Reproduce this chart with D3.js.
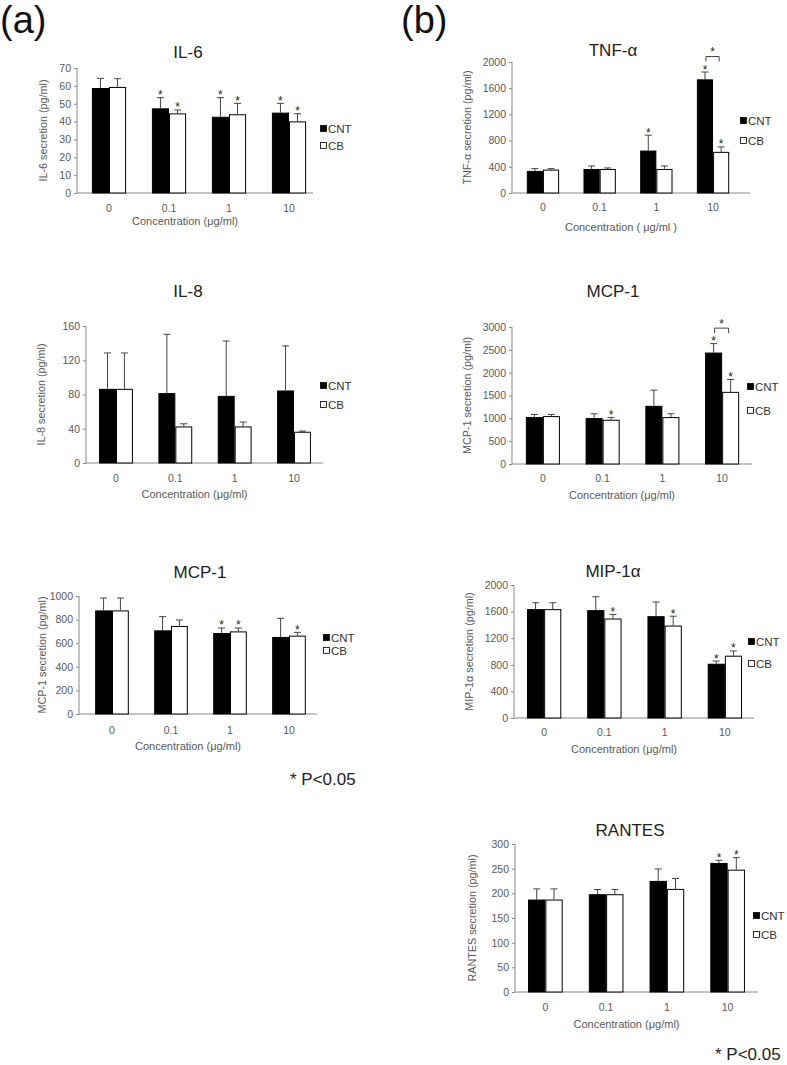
<!DOCTYPE html>
<html><head><meta charset="utf-8">
<script src="https://cdn.jsdelivr.net/npm/d3@7"></script>
<style>
html,body{margin:0;padding:0;background:#fff;}
svg{display:block;font-family:"Liberation Sans",Arial,sans-serif;}
</style></head>
<body>
<svg id="chart" width="787" height="1065"></svg>
<script>
// ---------- data ----------
const categories = ["0", "0.1", "1", "10"];
const seriesNames = ["CNT", "CB"];

const il6CNT = [58.8, 47.4, 42.7, 45.0];
const il6CNTsd = [5.4, 6.0, 10.7, 5.2];
const il6CB = [59.4, 44.6, 44.1, 40.1];
const il6CBsd = [4.6, 1.9, 6.1, 4.3];
const il6CNTstar = [0, 1, 1, 1];
const il6CBstar = [0, 1, 1, 1];
const il6Ticks = [0, 10, 20, 30, 40, 50, 60, 70];

const il8CNT = [86.6, 81.6, 78.4, 84.7];
const il8CNTsd = [41.9, 68.7, 64.1, 52.0];
const il8CB = [86.6, 42.7, 42.7, 36.5];
const il8CBsd = [41.9, 3.1, 5.1, 0.8];
const il8CNTstar = [0, 0, 0, 0];
const il8CBstar = [0, 0, 0, 0];
const il8Ticks = [0, 40, 80, 120, 160];

const mcpaCNT = [878, 709, 686, 653];
const mcpaCNTsd = [105, 116, 43, 158];
const mcpaCB = [878, 746, 700, 664];
const mcpaCBsd = [105, 51, 29, 28];
const mcpaCNTstar = [0, 0, 1, 0];
const mcpaCBstar = [0, 0, 1, 1];
const mcpaTicks = [0, 200, 400, 600, 800, 1000];

const tnfCNT = [337, 367, 648, 1735];
const tnfCNTsd = [35, 46, 235, 112];
const tnfCB = [357, 367, 367, 628];
const tnfCBsd = [15, 16, 46, 76];
const tnfCNTstar = [0, 0, 1, 1];
const tnfCBstar = [0, 0, 0, 1];
const tnfTicks = [0, 400, 800, 1200, 1600, 2000];

const mcpbCNT = [1027, 1005, 1274, 2440];
const mcpbCNTsd = [58, 95, 343, 196];
const mcpbCB = [1049, 969, 1027, 1580];
const mcpbCBsd = [36, 51, 73, 270];
const mcpbCNTstar = [0, 0, 0, 1];
const mcpbCBstar = [0, 1, 0, 1];
const mcpbTicks = [0, 500, 1000, 1500, 2000, 2500, 3000];

const mipCNT = [1637, 1622, 1531, 816];
const mipCNTsd = [96, 202, 212, 40];
const mipCB = [1637, 1496, 1390, 937];
const mipCBsd = [96, 61, 141, 71];
const mipCNTstar = [0, 0, 0, 1];
const mipCBstar = [0, 1, 1, 1];
const mipTicks = [0, 400, 800, 1200, 1600, 2000];

const ranCNT = [187.4, 198.2, 225.2, 261.6];
const ranCNTsd = [21.6, 9.5, 24.3, 5.4];
const ranCB = [187.4, 198.2, 209, 248];
const ranCBsd = [21.6, 9.5, 21, 24.4];
const ranCNTstar = [0, 0, 0, 1];
const ranCBstar = [0, 0, 0, 1];
const ranTicks = [0, 50, 100, 150, 200, 250, 300];

// ---------- layout ----------
const panels = [
  {title:"IL-6", ylab:"IL-6  secretion (pg/ml)", xlab:"Concentration  (μg/ml)",
   cnt:il6CNT, cntSd:il6CNTsd, cb:il6CB, cbSd:il6CBsd, cntStar:il6CNTstar, cbStar:il6CBstar, ticks:il6Ticks,
   ax0:77, ax1:313, band:[79,319], yTop:68, yBot:193, titleX:188, titleY:58, ylabX:47,
   legX:320, legY:[133,150], xtickY:212, xlabY:225, bracket:null},
  {title:"IL-8", ylab:"IL-8 secretion (pg/ml)", xlab:"Concentration  (μg/ml)",
   cnt:il8CNT, cntSd:il8CNTsd, cb:il8CB, cbSd:il8CBsd, cntStar:il8CNTstar, cbStar:il8CBstar, ticks:il8Ticks,
   ax0:86, ax1:323, band:[86.3,323.7], yTop:326, yBot:463, titleX:188, titleY:297, ylabX:45,
   legX:320, legY:[390,409], xtickY:482, xlabY:498, bracket:null},
  {title:"MCP-1", ylab:"MCP-1 secretion (pg/ml)", xlab:"Concentration  (μg/ml)",
   cnt:mcpaCNT, cntSd:mcpaCNTsd, cb:mcpaCB, cbSd:mcpaCBsd, cntStar:mcpaCNTstar, cbStar:mcpaCBstar, ticks:mcpaTicks,
   ax0:79, ax1:317, band:[82.5,318.5], yTop:596, yBot:714, titleX:200, titleY:578, ylabX:46,
   legX:323, legY:[642,655], xtickY:734, xlabY:750, bracket:null},
  {title:"TNF-α", ylab:"TNF-α secretion (pg/ml)", xlab:"Concentration  ( μg/ml )",
   cnt:tnfCNT, cntSd:tnfCNTsd, cb:tnfCB, cbSd:tnfCBsd, cntStar:tnfCNTstar, cbStar:tnfCBstar, ticks:tnfTicks,
   ax0:512, ax1:750, band:[514.6,741.4], yTop:62, yBot:193, titleX:613, titleY:56, ylabX:471,
   legX:740, legY:[125,145], xtickY:211, xlabY:231, bracket:"10"},
  {title:"MCP-1", ylab:"MCP-1 secretion (pg/ml)", xlab:"Concentration  (μg/ml)",
   cnt:mcpbCNT, cntSd:mcpbCNTsd, cb:mcpbCB, cbSd:mcpbCBsd, cntStar:mcpbCNTstar, cbStar:mcpbCBstar, ticks:mcpbTicks,
   ax0:512, ax1:752, band:[513,752], yTop:327, yBot:464, titleX:613, titleY:297, ylabX:471,
   legX:747, legY:[391,415], xtickY:482, xlabY:499, bracket:"10"},
  {title:"MIP-1α", ylab:"MIP-1α secretion (pg/ml)", xlab:"Concentration  (μg/ml)",
   cnt:mipCNT, cntSd:mipCNTsd, cb:mipCB, cbSd:mipCBsd, cntStar:mipCNTstar, cbStar:mipCBstar, ticks:mipTicks,
   ax0:514, ax1:754, band:[514,755], yTop:585, yBot:718, titleX:613, titleY:577, ylabX:473,
   legX:748, legY:[646,668], xtickY:736, xlabY:753, bracket:null},
  {title:"RANTES", ylab:"RANTES secretion (pg/ml)", xlab:"Concentration  (μg/ml)",
   cnt:ranCNT, cntSd:ranCNTsd, cb:ranCB, cbSd:ranCBsd, cntStar:ranCNTstar, cbStar:ranCBstar, ticks:ranTicks,
   ax0:515, ax1:758, band:[515,758], yTop:844, yBot:992, titleX:630, titleY:836, ylabX:476,
   legX:753, legY:[920,939], xtickY:1011, xlabY:1028, bracket:null}
];

const svg = d3.select("#chart");
const gray = "#595959";

svg.append("text").attr("x", 0).attr("y", 33).attr("font-size", 38).attr("fill", "#111").text("(a)");
svg.append("text").attr("x", 401).attr("y", 33).attr("font-size", 38).attr("fill", "#111").text("(b)");
svg.append("text").attr("x", 290).attr("y", 785).attr("font-size", 17).attr("fill", "#222").text("* P<0.05");
svg.append("text").attr("x", 715).attr("y", 1060).attr("font-size", 17).attr("fill", "#222").text("* P<0.05");

panels.forEach(p => {
  const g = svg.append("g");
  const ymax = p.ticks[p.ticks.length - 1];
  const y = d3.scaleLinear().domain([0, ymax]).range([p.yBot, p.yTop]);
  const x = d3.scaleBand().domain(categories).range(p.band);
  const bw = x.bandwidth() * 0.285;

  // title
  g.append("text").attr("x", p.titleX).attr("y", p.titleY).attr("text-anchor", "middle")
    .attr("font-size", 17).attr("fill", "#222").text(p.title);

  // y axis
  const ya = d3.axisLeft(y).tickValues(p.ticks).tickSize(3).tickPadding(3).tickFormat(d3.format("d"));
  const yg = g.append("g").attr("transform", `translate(${p.ax0},0)`).call(ya);
  yg.select(".domain").attr("stroke", "#888").attr("d", `M0,${p.yTop}V${p.yBot}`);
  yg.selectAll(".tick line").attr("stroke", "#888");
  yg.selectAll(".tick text").attr("fill", gray).attr("font-size", 10.5)
    .attr("font-family", "'Liberation Sans',Arial,sans-serif");

  // x axis line
  g.append("line").attr("x1", p.ax0).attr("x2", p.ax1).attr("y1", p.yBot).attr("y2", p.yBot)
    .attr("stroke", "#888");

  // x tick labels
  g.selectAll(".xt").data(categories).join("text")
    .attr("x", d => x(d) + x.bandwidth() / 2).attr("y", p.xtickY).attr("text-anchor", "middle")
    .attr("font-size", 10.5).attr("fill", gray).text(d => d);

  // axis titles
  g.append("text").attr("x", (p.ax0 + p.ax1) / 2 - 10).attr("y", p.xlabY).attr("text-anchor", "middle")
    .attr("font-size", 11).attr("fill", gray).text(p.xlab);
  g.append("text").attr("transform", `translate(${p.ylabX},${(p.yTop + p.yBot) / 2}) rotate(-90)`)
    .attr("text-anchor", "middle").attr("font-size", 10.8).attr("fill", gray).text(p.ylab);

  const series = [
    {name:"CNT", vals:p.cnt, sd:p.cntSd, star:p.cntStar, fill:"#000", off:-bw},
    {name:"CB", vals:p.cb, sd:p.cbSd, star:p.cbStar, fill:"#fff", off:0}
  ];
  series.forEach(s => {
    const data = categories.map((c, i) => ({c, v:s.vals[i], sd:s.sd[i], star:s.star[i]}));
    const cx = d => x(d.c) + x.bandwidth() / 2 + s.off;
    g.selectAll(null).data(data).join("line")
      .attr("x1", d => cx(d) + bw / 2).attr("x2", d => cx(d) + bw / 2)
      .attr("y1", d => y(d.v)).attr("y2", d => y(d.v + d.sd))
      .attr("stroke", "#444").attr("stroke-width", 1);
    g.selectAll(null).data(data).join("line")
      .attr("x1", d => cx(d) + bw / 2 - 3.5).attr("x2", d => cx(d) + bw / 2 + 3.5)
      .attr("y1", d => y(d.v + d.sd)).attr("y2", d => y(d.v + d.sd))
      .attr("stroke", "#444").attr("stroke-width", 1);
    g.selectAll(null).data(data).join("rect")
      .attr("x", d => cx(d) + 0.5).attr("width", bw - 1)
      .attr("y", d => y(d.v) + 0.5).attr("height", d => y(0) - y(d.v) - 0.5)
      .attr("fill", s.fill).attr("stroke", "#000").attr("stroke-width", 1);
    g.selectAll(null).data(data.filter(d => d.star)).join("text")
      .attr("x", d => cx(d) + bw / 2).attr("y", d => y(d.v + d.sd) + 1.5)
      .attr("text-anchor", "middle").attr("font-size", 12).attr("fill", "#222").text("*");
  });

  if (p.bracket) {
    const i = categories.indexOf(p.bracket);
    const top = Math.min(y(p.cnt[i] + p.cntSd[i]), y(p.cb[i] + p.cbSd[i])) - 15.5;
    const xa = x(p.bracket) + x.bandwidth() / 2 - bw / 2 + 1;
    const xb = x(p.bracket) + x.bandwidth() / 2 + bw / 2 - 2;
    g.append("path").attr("d", `M${xa},${top + 5}V${top}H${xb}V${top + 5}`)
      .attr("fill", "none").attr("stroke", "#444");
    g.append("text").attr("x", (xa + xb) / 2).attr("y", top - 0.5).attr("text-anchor", "middle")
      .attr("font-size", 12).attr("fill", "#222").text("*");
  }

  // legend
  series.forEach((s, k) => {
    g.append("rect").attr("x", p.legX + 0.5).attr("y", p.legY[k] - 7.5).attr("width", 6).attr("height", 6)
      .attr("fill", s.fill).attr("stroke", "#000").attr("stroke-width", 0.8);
    g.append("text").attr("x", p.legX + 8).attr("y", p.legY[k]).attr("font-size", 11.5)
      .attr("fill", "#333").text(s.name);
  });
});
</script>
</body></html>
